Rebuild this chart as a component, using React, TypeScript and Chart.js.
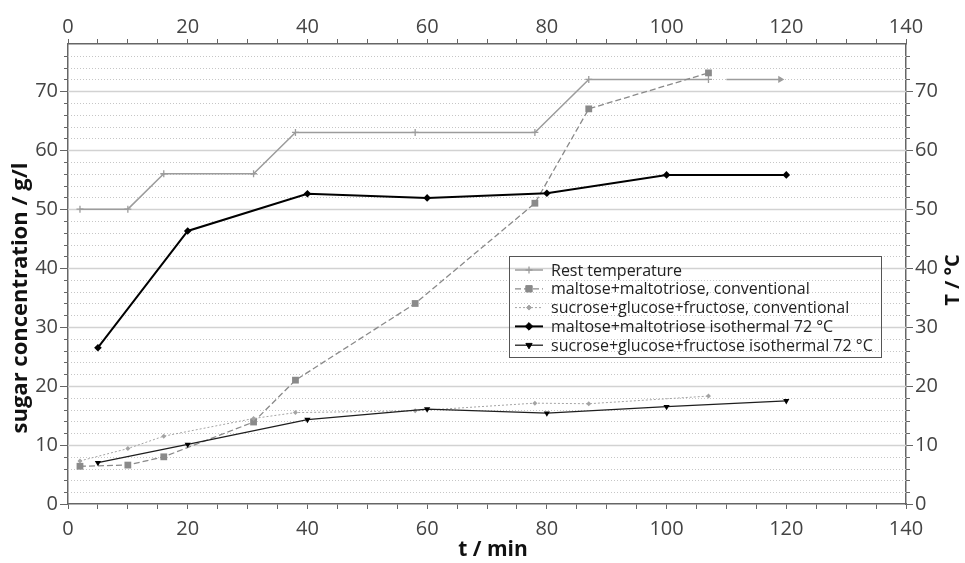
import React, { useEffect, useRef } from 'react';
import { Chart, registerables } from 'chart.js';
import { drawPoint } from 'chart.js/helpers';

Chart.register(...registerables);

// ---- data ----
const restTime = [2, 10, 16, 31, 38, 58, 78, 87, 107, 108, 110, 119];
const restTemp: (number | null)[] = [50, 50, 56, 56, 63, 63, 63, 72, 72, null, 72, 72];
const convTime = [2, 10, 16, 31, 38, 58, 78, 87, 107];
const maltoseConv = [6.4, 6.6, 8.0, 13.9, 21.0, 34.0, 51.0, 67.0, 73.1];
const sucroseConv = [7.3, 9.4, 11.5, 14.5, 15.5, 15.8, 17.1, 17.0, 18.3];
const isoTime = [5, 20, 40, 60, 80, 100, 120];
const maltoseIso = [26.5, 46.3, 52.6, 51.9, 52.7, 55.8, 55.8];
const sucroseIso = [7.0, 10.1, 14.3, 16.1, 15.4, 16.5, 17.5];

const seriesLabels = [
  'Rest temperature',
  'maltose+maltotriose, conventional',
  'sucrose+glucose+fructose, conventional',
  'maltose+maltotriose isothermal 72 °C',
  'sucrose+glucose+fructose isothermal 72 °C',
];
const xMin = 0, xMax = 140, xStep = 5, xLabelStep = 20;
const yMin = 0, yMax = 78, yStep = 10, yMinorStep = 2;
const xTitle = 't / min';
const yTitle = 'sugar concentration / g/l';
const y2Title = 'T / °C';

const FONT = '"Open Sans", "DejaVu Sans", sans-serif';
const AXIS = '#666666';
const TICKTXT = '#444444';

const pts = (xs: number[], ys: (number | null)[]) => xs.map((x, i) => ({ x, y: ys[i] }));

const decorPlugin = {
  id: 'decor',
  beforeDatasetsDraw(chart: any) {
    const { ctx, chartArea } = chart;
    const y = chart.scales.y;
    ctx.save();
    for (let v = yMin + yMinorStep; v < yMax; v += yMinorStep) {
      const py = Math.round(y.getPixelForValue(v)) + 0.5;
      ctx.beginPath();
      if (v % yStep === 0) {
        ctx.setLineDash([]);
        ctx.strokeStyle = '#d2d2d2';
        ctx.lineWidth = 1.6;
      } else {
        ctx.setLineDash([1, 2]);
        ctx.strokeStyle = '#c6c6c6';
        ctx.lineWidth = 1;
      }
      ctx.moveTo(chartArea.left, py);
      ctx.lineTo(chartArea.right, py);
      ctx.stroke();
    }
    ctx.restore();
  },
  afterDraw(chart: any) {
    const { ctx, chartArea } = chart;
    const y = chart.scales.y;
    ctx.save();
    // minor ticks on left/right axes
    ctx.strokeStyle = AXIS;
    ctx.lineWidth = 1;
    ctx.setLineDash([]);
    for (let v = yMin + yMinorStep; v < yMax; v += yMinorStep) {
      if (v % yStep === 0) continue;
      const py = Math.round(y.getPixelForValue(v)) + 0.5;
      ctx.beginPath();
      ctx.moveTo(chartArea.left - 4, py);
      ctx.lineTo(chartArea.left, py);
      ctx.moveTo(chartArea.right, py);
      ctx.lineTo(chartArea.right + 4, py);
      ctx.stroke();
    }
    // axis titles
    ctx.fillStyle = '#111111';
    ctx.textAlign = 'center';
    ctx.textBaseline = 'middle';
    ctx.font = `bold 21px ${FONT}`;
    ctx.fillText(xTitle, 493, 550);
    ctx.save();
    ctx.font = `bold 22px ${FONT}`;
    ctx.translate(21, 298);
    ctx.rotate(-Math.PI / 2);
    ctx.fillText(yTitle, 0, 0);
    ctx.restore();
    ctx.save();
    ctx.font = `bold 20px ${FONT}`;
    ctx.translate(953, 280);
    ctx.rotate(-Math.PI / 2);
    ctx.fillText(y2Title, 0, 0);
    ctx.restore();

    // legend
    const bx = 509, by = 256, bw = 372, bh = 101;
    ctx.strokeStyle = '#555555';
    ctx.lineWidth = 1;
    ctx.strokeRect(bx + 0.5, by + 0.5, bw, bh);
    ctx.font = `16px ${FONT}`;
    ctx.textAlign = 'left';
    ctx.textBaseline = 'middle';
    chart.data.datasets.forEach((ds: any, i: number) => {
      const cy = by + 14 + i * 18.8;
      ctx.save();
      ctx.strokeStyle = ds.borderColor;
      ctx.lineWidth = ds.borderWidth;
      ctx.setLineDash(ds.borderDash || []);
      ctx.beginPath();
      ctx.moveTo(bx + 6, cy);
      ctx.lineTo(bx + 34, cy);
      ctx.stroke();
      ctx.setLineDash([]);
      ctx.fillStyle = ds.legendPointColor;
      ctx.strokeStyle = ds.legendPointColor;
      ctx.lineWidth = ds.legendPointStyle === 'cross' ? 1.3 : 1;
      drawPoint(ctx, {
        pointStyle: ds.legendPointStyle,
        radius: ds.legendPointRadius,
        rotation: ds.legendPointRotation || 0,
        borderWidth: ctx.lineWidth,
      } as any, bx + 20, cy);
      ctx.restore();
      ctx.fillStyle = '#222222';
      ctx.fillText(ds.label, bx + 42, cy + 1);
    });
    ctx.restore();
  },
};

export default function App() {
  const ref = useRef<HTMLCanvasElement | null>(null);
  useEffect(() => {
    if (!ref.current) return;
    const lastRest = restTime.length - 1;
    const xAxisCommon = {
      type: 'linear' as const,
      min: xMin,
      max: xMax,
      border: { color: AXIS, width: 1.5 },
      grid: { drawOnChartArea: false, drawTicks: true, tickLength: 5, tickColor: AXIS, tickWidth: 1 },
      ticks: {
        stepSize: xStep,
        autoSkip: false,
        maxRotation: 0,
        includeBounds: false,
        color: TICKTXT,
        font: { family: FONT, size: 20 },
        padding: 2,
        callback: (v: any) => (Number(v) % xLabelStep === 0 ? String(v) : ''),
      },
    };
    const yAxisCommon = {
      type: 'linear' as const,
      min: yMin,
      max: yMax,
      border: { color: AXIS, width: 1.5 },
      grid: { drawOnChartArea: false, drawTicks: true, tickLength: 8, tickColor: AXIS, tickWidth: 1 },
      ticks: {
        stepSize: yStep,
        includeBounds: false,
        color: TICKTXT,
        font: { family: FONT, size: 20 },
        padding: 2,
      },
    };
    const chart = new Chart(ref.current, {
      type: 'line',
      data: {
        datasets: [
          {
            label: seriesLabels[0],
            data: pts(restTime, restTemp),
            yAxisID: 'y2',
            borderColor: '#9c9c9c',
            borderWidth: 1.5,
            spanGaps: false,
            pointStyle: (c: any) => (c.dataIndex === lastRest ? 'triangle' : 'cross'),
            pointRotation: (c: any) => (c.dataIndex === lastRest ? 90 : 0),
            pointRadius: (c: any) => (c.dataIndex === lastRest - 1 ? 0 : c.dataIndex === lastRest ? 2.8 : 3.5),
            pointBorderColor: '#9c9c9c',
            pointBackgroundColor: '#9c9c9c',
            pointBorderWidth: 1.3,
            legendPointStyle: 'cross',
            legendPointRadius: 3.5,
            legendPointColor: '#9c9c9c',
            order: 5,
          } as any,
          {
            label: seriesLabels[1],
            data: pts(convTime, maltoseConv),
            yAxisID: 'y',
            borderColor: '#8a8a8a',
            borderWidth: 1.3,
            borderDash: [6, 3],
            pointStyle: 'rect',
            pointRadius: 4.8,
            pointBorderWidth: 0,
            pointBackgroundColor: '#8a8a8a',
            pointBorderColor: '#8a8a8a',
            legendPointStyle: 'rect',
            legendPointRadius: 4.5,
            legendPointColor: '#8a8a8a',
            order: 4,
          } as any,
          {
            label: seriesLabels[2],
            data: pts(convTime, sucroseConv),
            yAxisID: 'y',
            borderColor: '#a4a4a4',
            borderWidth: 1,
            borderDash: [2, 2],
            pointStyle: 'rectRot',
            pointRadius: 2.5,
            pointBorderWidth: 0,
            pointBackgroundColor: '#a4a4a4',
            pointBorderColor: '#a4a4a4',
            legendPointStyle: 'rectRot',
            legendPointRadius: 2.5,
            legendPointColor: '#a4a4a4',
            order: 3,
          } as any,
          {
            label: seriesLabels[3],
            data: pts(isoTime, maltoseIso),
            yAxisID: 'y',
            borderColor: '#000000',
            borderWidth: 2,
            pointStyle: 'rectRot',
            pointRadius: 3.8,
            pointBorderWidth: 0,
            pointBackgroundColor: '#000000',
            pointBorderColor: '#000000',
            legendPointStyle: 'rectRot',
            legendPointRadius: 3.8,
            legendPointColor: '#000000',
            order: 2,
          } as any,
          {
            label: seriesLabels[4],
            data: pts(isoTime, sucroseIso),
            yAxisID: 'y',
            borderColor: '#1e1e1e',
            borderWidth: 1.3,
            pointStyle: 'triangle',
            pointRotation: 180,
            pointRadius: 3.6,
            pointBorderWidth: 0,
            pointBackgroundColor: '#000000',
            pointBorderColor: '#000000',
            legendPointStyle: 'triangle',
            legendPointRadius: 3.6,
            legendPointRotation: 180,
            legendPointColor: '#000000',
            order: 1,
          } as any,
        ],
      },
      options: {
        animation: false,
        responsive: false,
        devicePixelRatio: 1,
        layout: { padding: 0 },
        elements: { line: { tension: 0, fill: false } },
        plugins: { legend: { display: false }, tooltip: { enabled: false } },
        scales: {
          x: { ...xAxisCommon, position: 'bottom', ticks: { ...xAxisCommon.ticks, padding: 8 }, afterFit: (s: any) => { s.height = 59; } },
          x2: { ...xAxisCommon, position: 'top', ticks: { ...xAxisCommon.ticks, padding: 0 }, afterFit: (s: any) => { s.height = 44; } },
          y: { ...yAxisCommon, position: 'left', afterFit: (s: any) => { s.width = 68; } },
          y2: { ...yAxisCommon, position: 'right', grid: { ...yAxisCommon.grid, tickLength: 7 }, afterFit: (s: any) => { s.width = 59; } },
        },
      } as any,
      plugins: [decorPlugin],
    });
    return () => chart.destroy();
  }, []);
  return (
    <div style={{ position: 'fixed', left: 0, top: 0, width: 965, height: 563, background: '#ffffff' }}>
      <canvas ref={ref} width={965} height={563} style={{ display: 'block' }} />
    </div>
  );
}
